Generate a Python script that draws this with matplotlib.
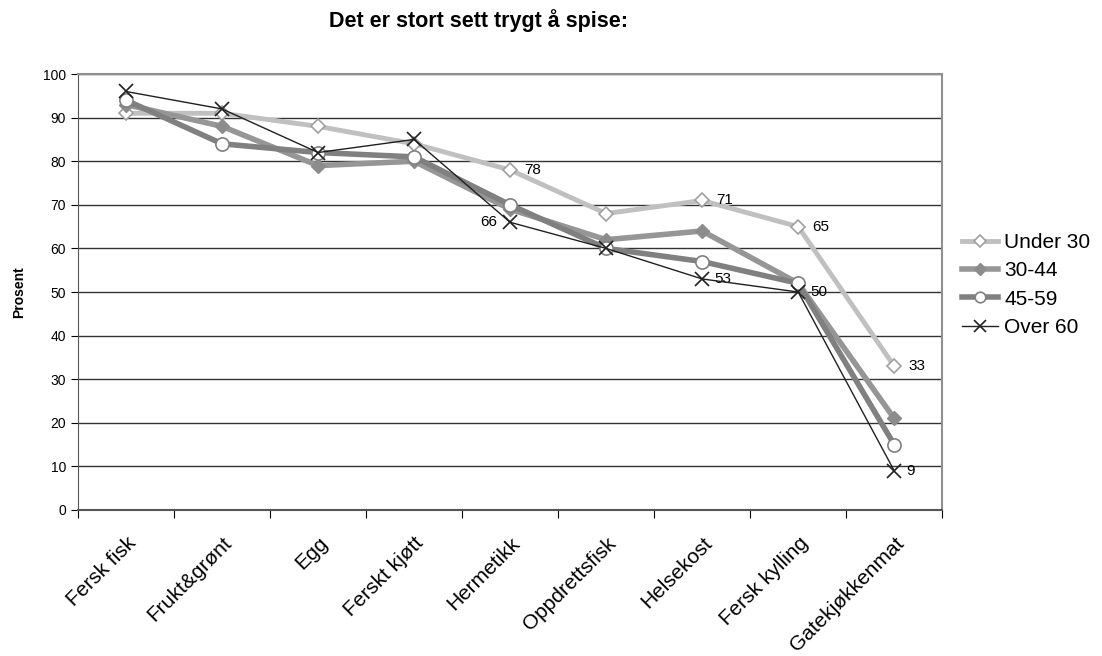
import matplotlib.pyplot as plt
import numpy as np

plt.rcParams['font.family'] = ['Liberation Sans', 'DejaVu Sans']

categories = ["Fersk fisk", "Frukt&grønt", "Egg", "Ferskt kjøtt", "Hermetikk",
              "Oppdrettsfisk", "Helsekost", "Fersk kylling", "Gatekjøkkenmat"]
under30 = [91, 91, 88, 84, 78, 68, 71, 65, 33]
age30_44 = [93, 88, 79, 80, 69, 62, 64, 52, 21]
age45_59 = [94, 84, 82, 81, 70, 60, 57, 52, 15]
over60 = [96, 92, 82, 85, 66, 60, 53, 50, 9]

x = np.arange(len(categories))

fig = plt.figure(figsize=(11.02, 6.56), dpi=100)
ax = fig.add_axes([0.0708, 0.2226, 0.7842, 0.6645])

ax.plot(x, under30, color="#c0c0c0", lw=3.5, marker="D", ms=7.5, mfc="white",
        mec="#a0a0a0", mew=1.2, label="Under 30", zorder=3)
ax.plot(x, age30_44, color="#969696", lw=4, marker="D", ms=7.5, mfc="#8c8c8c",
        mec="#8c8c8c", label="30-44", zorder=4)
ax.plot(x, age45_59, color="#808080", lw=4, marker="o", ms=9.5, mfc="white",
        mec="#808080", mew=1.2, label="45-59", zorder=5)
ax.plot(x, over60, color="#202020", lw=1, marker="x", ms=10, mew=1.2,
        label="Over 60", zorder=6)

# data labels
for i in [4, 6, 7, 8]:
    ax.annotate(str(under30[i]), (x[i], under30[i]), xytext=(10, 0),
                textcoords="offset points", va="center", ha="left", fontsize=11)
ax.annotate(str(over60[4]), (x[4], over60[4]), xytext=(-9, 0),
            textcoords="offset points", va="center", ha="right", fontsize=11)
for i in [6, 7, 8]:
    ax.annotate(str(over60[i]), (x[i], over60[i]), xytext=(9, 0),
                textcoords="offset points", va="center", ha="left", fontsize=11)

ax.set_xlim(-0.5, len(categories) - 0.5)
ax.set_ylim(0, 100)
ax.set_yticks(range(0, 101, 10))
ax.tick_params(axis="y", labelsize=10, length=5, direction="out")
ax.yaxis.grid(True, color="#333333", lw=1)
ax.set_axisbelow(True)

ax.set_xticks(np.arange(-0.5, len(categories)), labels=[])
ax.set_xticks(x, minor=True)
ax.set_xticklabels(categories, minor=True, rotation=45, ha="right",
                   rotation_mode="anchor", fontsize=15)
ax.tick_params(axis="x", which="major", length=6, direction="out")
ax.tick_params(axis="x", which="minor", length=0, pad=17)

for side in ["top", "right"]:
    ax.spines[side].set_color("#909090")
    ax.spines[side].set_linewidth(1.5)
ax.spines["left"].set_color("#555555")
ax.spines["bottom"].set_color("#555555")
ax.spines["bottom"].set_linewidth(1.5)

ax.set_ylabel("Prosent", fontsize=10, fontweight="bold", labelpad=12)
fig.text(0.434, 0.969, "Det er stort sett trygt å spise:", ha="center",
         va="center", fontsize=15.5, fontweight="bold")

ax.legend(loc="center left", bbox_to_anchor=(1.0134, 0.516), frameon=False,
          fontsize=15, handlelength=1.7, handletextpad=0.33, labelspacing=0.44,
          borderaxespad=0, borderpad=0.4, markerscale=0.8)

plt.savefig("out.png")
plt.close()
